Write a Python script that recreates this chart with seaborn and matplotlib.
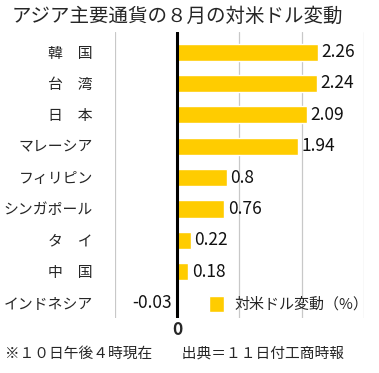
import pandas as pd
import matplotlib.pyplot as plt
import seaborn as sns

# data
countries = ["韓　国", "台　湾", "日　本", "マレーシア", "フィリピン",
             "シンガポール", "タ　イ", "中　国", "インドネシア"]
change = [2.26, 2.24, 2.09, 1.94, 0.8, 0.76, 0.22, 0.18, -0.03]
value_labels = ["2.26", "2.24", "2.09", "1.94", "0.8", "0.76", "0.22", "0.18", "-0.03"]

title = "アジア主要通貨の８月の対米ドル変動"
series_name = "対米ドル変動（%）"
footnote = "※１０日午後４時現在　　出典＝１１日付工商時報"

df = pd.DataFrame({"country": countries, "change": change})

sns.set_style("white")
plt.rcParams["font.family"] = ["Noto Sans CJK JP", "DejaVu Sans"]

fig = plt.figure(figsize=(3.79, 3.73), dpi=100)
ax = fig.add_axes([0.3034, 0.1475, 0.6566, 0.7665])

sns.barplot(data=df, x="change", y="country", orient="h", color="#FFCC00",
            width=0.55, label=series_name, ax=ax, saturation=1)

ax.bar_label(ax.containers[0], labels=value_labels, padding=2.5, fontsize=12.5,
             color="#111111")

ax.set_xlim(-1, 3)
ax.set_ylim(8.48, -0.64)
for x in [-1, 1, 2, 3]:
    ax.axvline(x, color="#c8c8c8", lw=0.9, zorder=0)
ax.axvline(0, color="black", lw=2.2, zorder=3)

ax.set_xticks([-1, 0, 1, 2, 3])
ax.set_xticklabels(["", "0", "", "", ""], fontsize=12.5, fontweight="bold")
ax.tick_params(axis="x", length=0, pad=2)
ax.tick_params(axis="y", length=0, pad=16, labelsize=10.7)
ax.set_xlabel("")
ax.set_ylabel("")
for s in ax.spines.values():
    s.set_visible(False)

ax.legend(loc="lower left", bbox_to_anchor=(0.355, 0.0), frameon=False,
          handlelength=0.95, handleheight=1.3, handletextpad=0.7,
          fontsize=10.8, borderaxespad=0)

fig.text(0.03, 0.955, title, fontsize=14, va="center", ha="left")
fig.text(0.013, 0.053, footnote, fontsize=10.6, va="center", ha="left")

fig.savefig("out.png", dpi=100)
